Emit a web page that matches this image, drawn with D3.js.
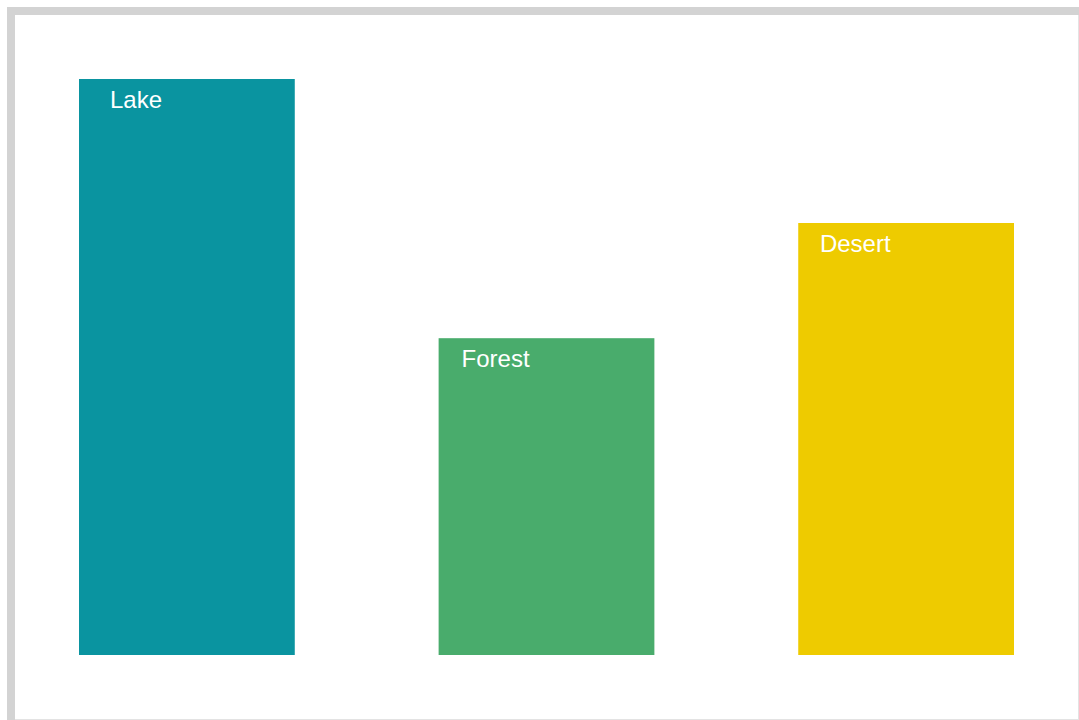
<!DOCTYPE html>
<html>
<head>
<meta charset="utf-8">
<script src="https://cdn.jsdelivr.net/npm/d3@7"></script>
<style>
  html, body { margin: 0; padding: 0; background: #fff; }
  svg { display: block; }
  text { font-family: "Liberation Sans", Arial, sans-serif; }
</style>
</head>
<body>
<script>
// Habitat categories, their values and bar colours
const categories = ["Lake", "Forest", "Desert"];
const values = [100, 55, 75];
const colors = ["#0A94A0", "#49AC6C", "#EECB00"];

const W = 1079, H = 720;
const svg = d3.select("body").append("svg")
  .attr("width", W).attr("height", H);

// frame: heavy light-grey edge on left/top, hairline on right/bottom
svg.append("rect").attr("x", 0).attr("y", 0).attr("width", W).attr("height", H).attr("fill", "#fff");
svg.append("rect").attr("x", 7).attr("y", 7).attr("width", W - 7).attr("height", 8).attr("fill", "#d3d3d3");
svg.append("rect").attr("x", 7).attr("y", 7).attr("width", 8).attr("height", H - 7).attr("fill", "#d3d3d3");
svg.append("rect").attr("x", W - 1).attr("y", 15).attr("width", 1).attr("height", H - 15).attr("fill", "#e3e3e3");
svg.append("rect").attr("x", 15).attr("y", H - 1).attr("width", W - 15).attr("height", 1).attr("fill", "#e3e3e3");

const x = d3.scaleBand()
  .domain(categories)
  .range([79, 1014])
  .paddingInner(0.4)
  .paddingOuter(0);

const y = d3.scaleLinear()
  .domain([0, 100])
  .range([655, 79]);

const data = categories.map((c, i) => ({ name: c, value: values[i], color: colors[i] }));

const g = svg.append("g");

g.selectAll("rect.bar")
  .data(data)
  .join("rect")
  .attr("class", "bar")
  .attr("x", d => x(d.name))
  .attr("y", d => y(d.value))
  .attr("width", x.bandwidth())
  .attr("height", d => y(0) - y(d.value))
  .attr("fill", d => d.color);

g.selectAll("text.label")
  .data(data)
  .join("text")
  .attr("class", "label")
  .attr("x", d => x(d.name) + 57)
  .attr("y", d => y(d.value) + 29)
  .attr("text-anchor", "middle")
  .attr("fill", "#fff")
  .style("font-size", "24px")
  .text(d => d.name);
</script>
</body>
</html>
